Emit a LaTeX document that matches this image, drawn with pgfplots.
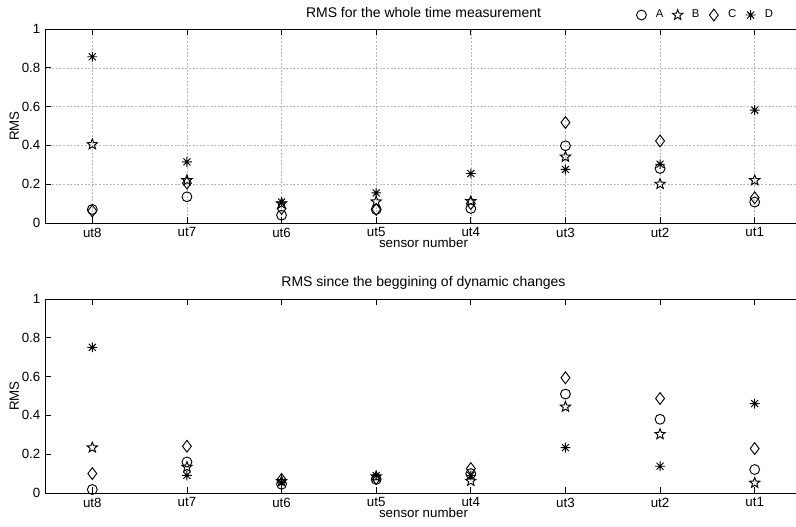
\documentclass[border=0pt]{standalone}
\usepackage{fontspec}
\setmainfont{Liberation Sans}
\usepackage{pgfplots}
\pgfplotsset{compat=1.18}

% MATLAB-like markers
\pgfdeclareplotmark{pentagram}{%
  \pgfpathmoveto{\pgfpointpolar{90}{1.1\pgfplotmarksize}}%
  \pgfpathlineto{\pgfpointpolar{126}{0.47\pgfplotmarksize}}%
  \pgfpathlineto{\pgfpointpolar{162}{1.1\pgfplotmarksize}}%
  \pgfpathlineto{\pgfpointpolar{198}{0.47\pgfplotmarksize}}%
  \pgfpathlineto{\pgfpointpolar{234}{1.1\pgfplotmarksize}}%
  \pgfpathlineto{\pgfpointpolar{270}{0.47\pgfplotmarksize}}%
  \pgfpathlineto{\pgfpointpolar{306}{1.1\pgfplotmarksize}}%
  \pgfpathlineto{\pgfpointpolar{342}{0.47\pgfplotmarksize}}%
  \pgfpathlineto{\pgfpointpolar{18}{1.1\pgfplotmarksize}}%
  \pgfpathlineto{\pgfpointpolar{54}{0.47\pgfplotmarksize}}%
  \pgfpathclose
  \pgfusepathqstroke}
\pgfdeclareplotmark{matast}{%
  \pgfpathmoveto{\pgfqpoint{-\pgfplotmarksize}{0pt}}%
  \pgfpathlineto{\pgfqpoint{\pgfplotmarksize}{0pt}}%
  \pgfpathmoveto{\pgfqpoint{0pt}{-\pgfplotmarksize}}%
  \pgfpathlineto{\pgfqpoint{0pt}{\pgfplotmarksize}}%
  \pgfpathmoveto{\pgfqpoint{-0.707\pgfplotmarksize}{-0.707\pgfplotmarksize}}%
  \pgfpathlineto{\pgfqpoint{0.707\pgfplotmarksize}{0.707\pgfplotmarksize}}%
  \pgfpathmoveto{\pgfqpoint{-0.707\pgfplotmarksize}{0.707\pgfplotmarksize}}%
  \pgfpathlineto{\pgfqpoint{0.707\pgfplotmarksize}{-0.707\pgfplotmarksize}}%
  \pgfusepathqstroke}

\pgfplotsset{
  rmsaxis/.style={
    scale only axis,width=567.75pt,height=145.5pt,anchor=south west,
    xmin=-0.5,xmax=7.5,ymin=0,ymax=1,
    xtick={0,...,7},xticklabels={ut8,ut7,ut6,ut5,ut4,ut3,ut2,ut1},
    ytick={0,0.2,0.4,0.6,0.8,1},yticklabels={0,0.2,0.4,0.6,0.8,1},
    tick align=inside,tick pos=both,major tick length=4.5pt,
    tick style={black,line width=0.6pt},
    axis line style={black,line width=0.75pt},
    tick label style={font=\fontsize{10}{12}\selectfont},
    label style={font=\fontsize{10}{12}\selectfont},
    title style={font=\fontsize{10.5}{12}\selectfont},
    every axis title shift=0pt,
    xlabel={sensor number},ylabel={RMS},
    xlabel style={at={(axis description cs:0.5,-0.10)},anchor=center},
    ylabel style={at={(axis description cs:-0.0405,0.5)},anchor=center},
    /pgf/number format/assume math mode=true,
    mark size=3.7pt,
    cycle list={
      {black,only marks,mark=o,mark options={line width=0.7pt}},
      {black,only marks,mark=pentagram,mark options={line width=0.7pt}},
      {black,only marks,mark=diamond,mark options={line width=0.7pt,scale=1.2}},
      {black,only marks,mark=matast,mark options={line width=0.7pt}}},
  },
}

\begin{document}
\begin{tikzpicture}
% top panel
\begin{axis}[
  rmsaxis,
  at={(33.75pt,227.25pt)},
  title={RMS for the whole time measurement},
  title style={at={(axis description cs:0.5,1.087)},anchor=center},
  grid=major,major grid style={dash pattern=on 1.5pt off 1.2pt,black!28,line width=0.4pt},
  legend style={draw=none,fill=none,at={(axis description cs:0.869,1.072)},
    anchor=center,font=\fontsize{8.5}{9}\selectfont},
  legend columns=-1,
  legend image code/.code={%
    \path (0cm,0cm) (0.6cm,0cm);
    \draw[mark repeat=2,mark phase=2,#1] plot coordinates {(0cm,0cm)(0.3cm,0cm)(0.6cm,0cm)};},
  /tikz/every even column/.append style={column sep=0pt},
]
\addplot coordinates {(0,0.070)(1,0.135)(2,0.040)(3,0.070)(4,0.075)(5,0.398)(6,0.281)(7,0.108)};
\addplot coordinates {(0,0.405)(1,0.220)(2,0.100)(3,0.110)(4,0.112)(5,0.341)(6,0.201)(7,0.220)};
\addplot coordinates {(0,0.062)(1,0.206)(2,0.075)(3,0.070)(4,0.100)(5,0.518)(6,0.423)(7,0.130)};
\addplot coordinates {(0,0.857)(1,0.315)(2,0.108)(3,0.155)(4,0.255)(5,0.276)(6,0.303)(7,0.582)};
\legend{A,B,C,D}
\end{axis}
% bottom panel
\begin{axis}[
  rmsaxis,
  at={(33.75pt,24.75pt)},
  title={RMS since the beggining of dynamic changes},
  title style={at={(axis description cs:0.5,1.082)},anchor=center},
]
\addplot coordinates {(0,0.018)(1,0.160)(2,0.045)(3,0.070)(4,0.100)(5,0.510)(6,0.380)(7,0.121)};
\addplot coordinates {(0,0.234)(1,0.134)(2,0.060)(3,0.085)(4,0.062)(5,0.444)(6,0.303)(7,0.052)};
\addplot coordinates {(0,0.100)(1,0.241)(2,0.070)(3,0.075)(4,0.126)(5,0.594)(6,0.487)(7,0.229)};
\addplot coordinates {(0,0.751)(1,0.091)(2,0.055)(3,0.090)(4,0.090)(5,0.234)(6,0.138)(7,0.461)};
\end{axis}
\pgfresetboundingbox
\path[use as bounding box] (0,0) rectangle (597pt,394.5pt);
\end{tikzpicture}
\end{document}
